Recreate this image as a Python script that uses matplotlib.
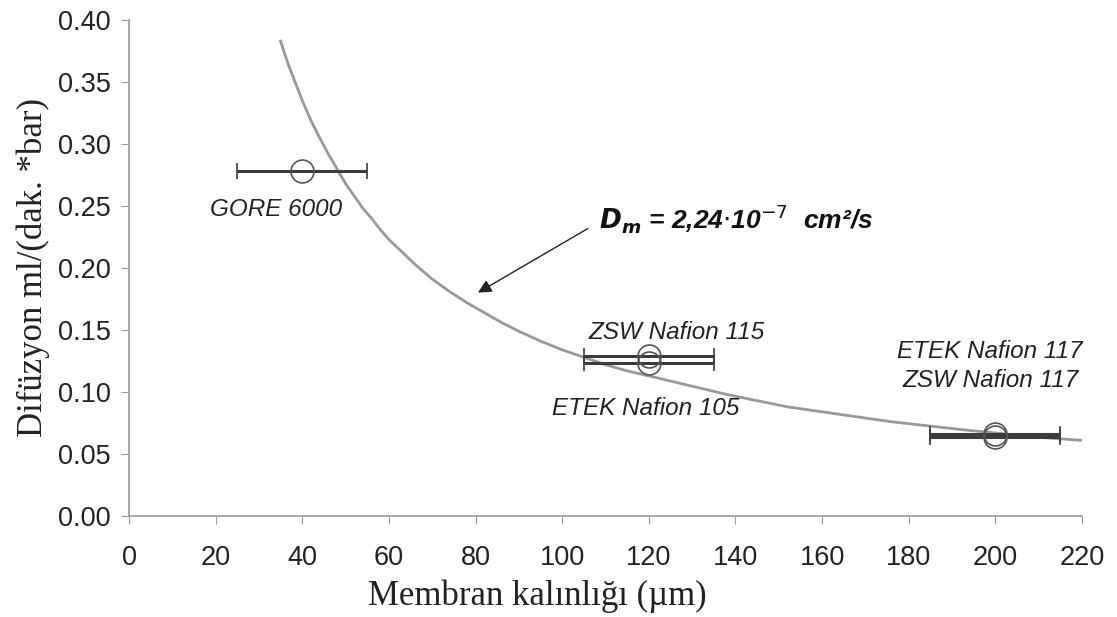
import matplotlib
matplotlib.use("Agg")
import matplotlib.pyplot as plt

# Measured points
thickness = [40, 120, 120, 200, 200]
diffusion = [0.278, 0.129, 0.123, 0.066, 0.064]
thick_err = [15, 15, 15, 15, 15]
labels = ["GORE 6000", "ZSW Nafion 115", "ETEK Nafion 105", "ETEK Nafion 117\nZSW Nafion 117"]

# Fitted curve
curve_x = [35, 36, 37, 38, 39, 40, 42, 44, 46, 48, 50, 52, 54, 56, 58, 60, 63, 66, 70, 74, 78, 82,
           86, 90, 95, 100, 105, 110, 115, 120, 126, 132, 138, 145, 152, 160, 168, 176, 185,
           194, 203, 212, 220]
curve_y = [0.383, 0.372, 0.362, 0.353, 0.344, 0.335, 0.319, 0.305, 0.292, 0.280, 0.268, 0.258,
           0.248, 0.240, 0.231, 0.223, 0.213, 0.203, 0.191, 0.181, 0.172, 0.164, 0.156, 0.149,
           0.141, 0.134, 0.128, 0.122, 0.117, 0.113, 0.108, 0.103, 0.098, 0.093, 0.088, 0.084,
           0.080, 0.076, 0.0725, 0.069, 0.066, 0.063, 0.061]

fig = plt.figure(figsize=(11.17, 6.17), dpi=100)
ax = fig.add_axes([0.1155, 0.1637, 0.8532, 0.8039])

ax.plot(curve_x, curve_y, color="#999999", lw=2.0, zorder=2)
ax.errorbar(thickness, diffusion, xerr=thick_err, fmt="o", ms=16.5, mfc="none", mec="#555555",
            mew=1.2, ecolor="#3c3c3c", elinewidth=2.2, capsize=5.5, capthick=2.0, zorder=3)

ax.set_xlim(0, 220)
ax.set_ylim(0, 0.40)
ax.set_xticks(range(0, 221, 20))
ax.set_yticks([i * 0.05 for i in range(9)])
ax.set_yticklabels([f"{i*0.05:.2f}" for i in range(9)])

for s in ["top", "right"]:
    ax.spines[s].set_visible(False)
for s in ["left", "bottom"]:
    ax.spines[s].set_color("#999999")
    ax.spines[s].set_linewidth(1.2)
ax.tick_params(direction="out", length=6, color="#999999", labelsize=19.5, pad=7)
ax.tick_params(axis="x", pad=15)
for t in ax.get_xticklabels() + ax.get_yticklabels():
    t.set_fontfamily("Liberation Sans")
    t.set_color("#222222")

ax.set_xlabel("Membran kalınlığı (µm)", family="Liberation Serif", fontsize=25,
              color="#222222")
ax.xaxis.set_label_coords(0.428, -0.128)
ax.set_ylabel("Difüzyon ml/(dak. *bar)", family="Liberation Serif", fontsize=25, labelpad=6,
              color="#222222")

tf = dict(family="Liberation Sans", style="italic", fontsize=17.5, color="#222222")
ax.text(34, 0.247, labels[0], ha="center", va="center", **tf)
ax.text(126.3, 0.1476, labels[1], ha="center", va="center", **tf)
ax.text(119.2, 0.087, labels[2], ha="center", va="center", **tf)
ax.text(198.8, 0.121, labels[3], ha="center", va="center", linespacing=1.35, **tf)

ax.annotate("", xy=(80.0, 0.179), xytext=(106.5, 0.233),
            arrowprops=dict(arrowstyle="-|>", color="#222222", lw=1.0, mutation_scale=20))
ax.text(108.5, 0.240, r"$\mathbfit{D_{m}}$ = 2,24$\cdot$10$^{-7}$  cm²/s", ha="left", va="center",
        family="Liberation Sans", style="italic", weight="bold", fontsize=19, color="#111111")

fig.savefig("out.png", dpi=100)
